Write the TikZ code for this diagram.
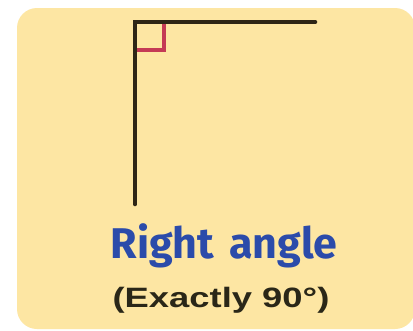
\documentclass[tikz,border=0pt]{standalone}
\usepackage{fontspec}
\usepackage{graphicx}
\setmainfont{Liberation Sans}
\newfontfamily\titlefont{Fira Sans}
\definecolor{panel}{HTML}{FDE6A3}
\definecolor{armcol}{HTML}{2E2616}
\definecolor{markcol}{HTML}{C43A55}
\definecolor{titleblue}{HTML}{2B4BAA}
\definecolor{subcol}{HTML}{2A2718}
\tikzset{
  arm/.style={draw=armcol,line width=4.6pt,line cap=round},
  marker/.style={draw=markcol,line width=3.6pt},
  title/.style={font=\titlefont\bfseries\fontsize{44}{50}\selectfont,text=titleblue,anchor=base,inner sep=0pt},
  sub/.style={font=\bfseries\fontsize{28}{32}\selectfont,text=subcol,anchor=base,inner sep=0pt}
}
\begin{document}
\begin{tikzpicture}[x=1pt,y=-1pt]
\useasboundingbox (0,0) rectangle (413,330);
\fill[white] (0,0) rectangle (413,330);
\fill[panel,rounded corners=20pt] (17,8) rectangle (415,329);
\coordinate (v) at (135,22);
\coordinate (bot) at (135,204);
\coordinate (right) at (315,22);
\draw[marker] (135,50) -- (164,50) -- (164,22);
\draw[arm] (bot) -- (v) -- (right);
\node[title] (t) at (224,258) {\resizebox{227pt}{!}{Right\hspace{0.35em}angle}};
\node[sub] (s) at (221,307) {\scalebox{1.3}[1]{(Exactly 90°)}};
\end{tikzpicture}
\end{document}
